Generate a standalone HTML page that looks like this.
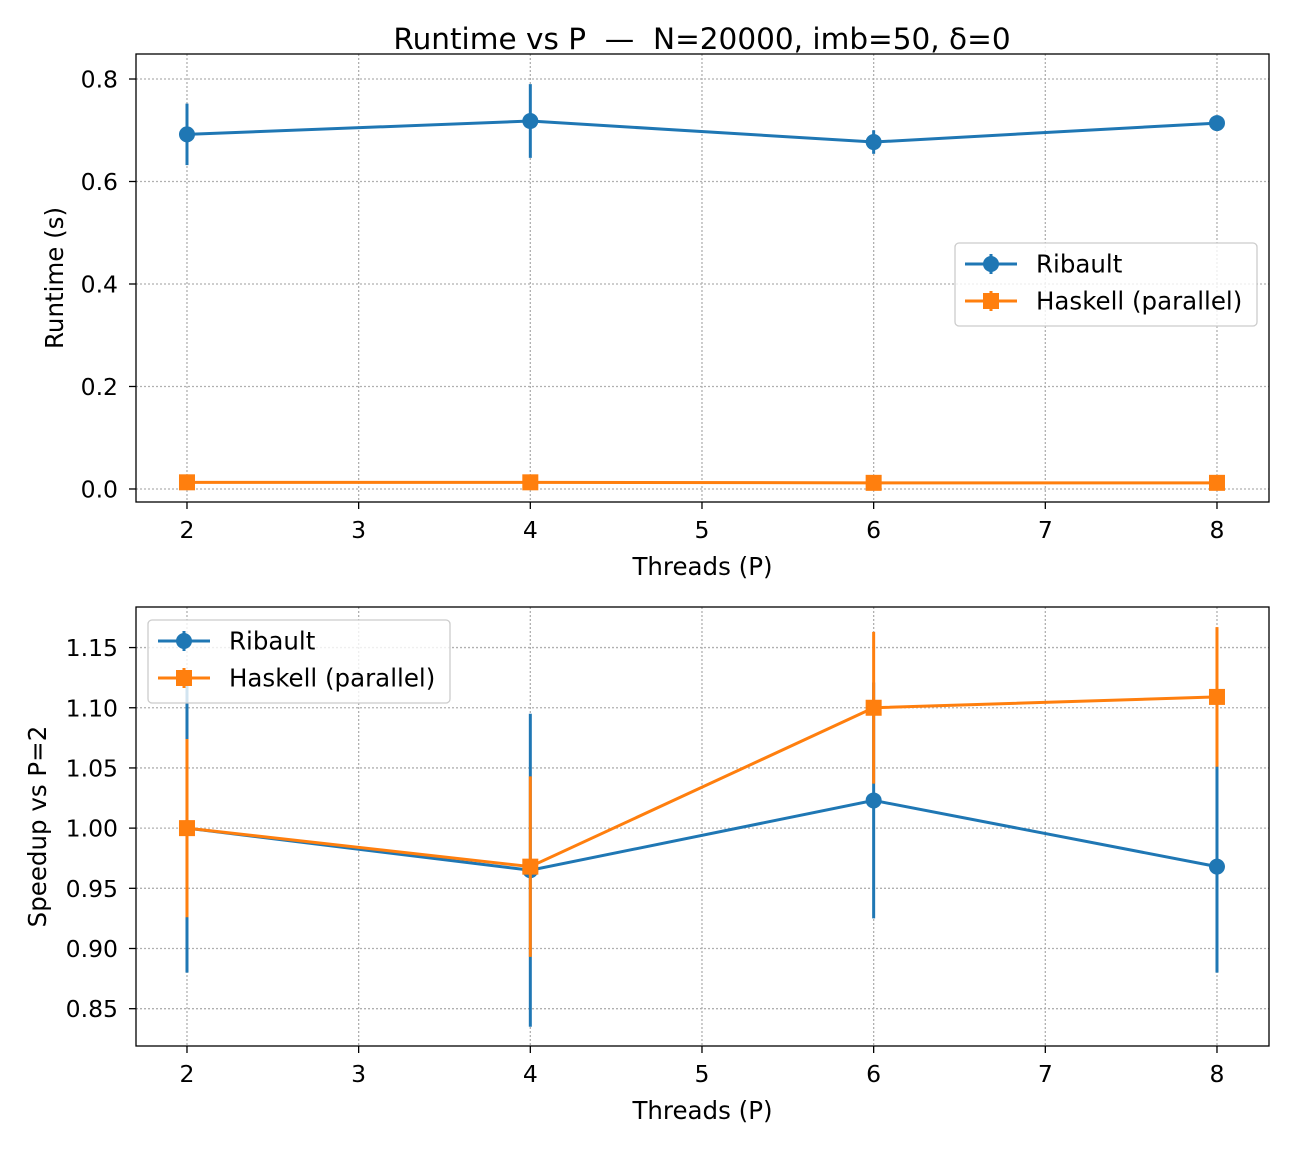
<!DOCTYPE html>
<html><head><meta charset="utf-8"><style>
body{margin:0;background:#fff}
svg text{font-family:"DejaVu Sans","Liberation Sans",sans-serif;fill:#000}
</style></head><body>
<svg id="chart" width="1296" height="1152" xmlns="http://www.w3.org/2000/svg"></svg>
<script>
const threads=[2,4,6,8];
const ribRuntime=[0.692,0.718,0.677,0.714];
const ribRuntimeErr=[0.06,0.072,0.023,0.015];
const hasRuntime=[0.013,0.013,0.012,0.012];
const hasRuntimeErr=[0.002,0.002,0.002,0.002];
const ribSpeedup=[1.000,0.965,1.023,0.968];
const ribSpeedupErr=[0.12,0.13,0.098,0.088];
const hasSpeedup=[1.000,0.968,1.100,1.109];
const hasSpeedupErr=[0.074,0.075,0.063,0.058];
const xTicks=[2,3,4,5,6,7,8];
const topYTicks=[0.0,0.2,0.4,0.6,0.8];
const botYTicks=[0.85,0.90,0.95,1.00,1.05,1.10,1.15];

const svg=document.getElementById('chart');
const NS='http://www.w3.org/2000/svg';
function mk(tag,attrs,parent){const e=document.createElementNS(NS,tag);for(const k in attrs)e.setAttribute(k,attrs[k]);(parent||svg).appendChild(e);return e;}
const BLUE='#1f77b4',ORANGE='#ff7f0e';

function panel(cfg){
  const g=mk('g',{});
  
  
  const L=136,R=1269,T=cfg.top,B=cfg.bottom;
  const sx=v=>L+(v-1.703)/(8.303-1.703)*(R-L);
  const sy=v=>B-(v-cfg.ymin)/(cfg.ymax-cfg.ymin)*(B-T);
  xTicks.forEach(t=>{
    const x=sx(t);
    const gl=mk('line',{x1:x,x2:x,y1:T,y2:B,stroke:'#b0b0b0','stroke-width':1.3,'stroke-dasharray':'2,2'},g);
    
    mk('line',{x1:x,x2:x,y1:B,y2:B+7,stroke:'#000','stroke-width':1.3},g);
    const tx=mk('text',{x:x,y:B+36,'text-anchor':'middle','font-size':23.5},g);tx.textContent=t;
    
  });
  cfg.yTicks.forEach(t=>{
    const y=sy(t);
    const gl=mk('line',{x1:L,x2:R,y1:y,y2:y,stroke:'#b0b0b0','stroke-width':1.3,'stroke-dasharray':'2,2'},g);
    
    mk('line',{x1:L-7,x2:L,y1:y,y2:y,stroke:'#000','stroke-width':1.3},g);
    const tx=mk('text',{x:L-18,y:y+8.5,'text-anchor':'end','font-size':23.5},g);tx.textContent=t.toFixed(cfg.dec);
    
  });
  function series(vals,errs,color,marker,nm){
    const sg=mk('g',{},g);
    
    const pts=threads.map((t,i)=>sx(t)+','+sy(vals[i])).join(' ');
    mk('polyline',{points:pts,fill:'none',stroke:color,'stroke-width':3},sg);
    threads.forEach((t,i)=>{
      const x=sx(t);
      const eb=mk('line',{x1:x,x2:x,y1:sy(vals[i]-errs[i]),y2:sy(vals[i]+errs[i]),stroke:color,'stroke-width':3},sg);
      
      let m;
      if(marker==='o')m=mk('circle',{cx:x,cy:sy(vals[i]),r:8,fill:color},sg);
      else m=mk('rect',{x:x-8,y:sy(vals[i])-8,width:16,height:16,fill:color},sg);
      
    });
  }
  series(cfg.rib,cfg.ribErr,BLUE,'o','ribault-series');
  series(cfg.has,cfg.hasErr,ORANGE,'s','haskell-series');
  const fr=mk('rect',{x:L,y:T,width:R-L,height:B-T,fill:'none',stroke:'#000','stroke-width':1.3},g);
  
  const xl=mk('text',{x:(L+R)/2,y:B+73,'text-anchor':'middle','font-size':24.5},g);xl.textContent='Threads (P)';
  
  const ycx=cfg.ylabX,ycy=(T+B)/2;
  const yl=mk('text',{x:ycx,y:ycy,'text-anchor':'middle','font-size':24.5,transform:`rotate(-90 ${ycx} ${ycy})`},g);yl.textContent=cfg.ylabel;
  
  const lg=mk('g',{},g);
  
  const lx=cfg.legX,ly=cfg.legY;
  mk('rect',{x:lx,y:ly,width:cfg.legW,height:83,rx:4,fill:'#fff','fill-opacity':0.8,stroke:'#ccc','stroke-width':1.3},lg);
  [[BLUE,'o','Ribault'],[ORANGE,'s','Haskell (parallel)']].forEach((e,i)=>{
    const yy=ly+21+i*37,x0=lx+10,xm=x0+26;
    const eg=mk('g',{},lg);
    
    mk('line',{x1:x0,x2:x0+52,y1:yy,y2:yy,stroke:e[0],'stroke-width':3},eg);
    mk('line',{x1:xm,x2:xm,y1:yy-10,y2:yy+10,stroke:e[0],'stroke-width':3},eg);
    if(e[1]==='o')mk('circle',{cx:xm,cy:yy,r:8,fill:e[0]},eg);else mk('rect',{x:xm-8,y:yy-8,width:16,height:16,fill:e[0]},eg);
    const t=mk('text',{x:x0+71,y:yy+8.5,'font-size':24.5},eg);t.textContent=e[2];
  });
}
panel({name:'runtime-panel',top:54,bottom:502,ymin:-0.0254,ymax:0.8488,yTicks:topYTicks,dec:1,
  rib:ribRuntime,ribErr:ribRuntimeErr,has:hasRuntime,hasErr:hasRuntimeErr,ylabel:'Runtime (s)',ylabX:63,
  legX:955,legY:243,legW:302});
panel({name:'speedup-panel',top:607,bottom:1046,ymin:0.819,ymax:1.1837,yTicks:botYTicks,dec:2,
  rib:ribSpeedup,ribErr:ribSpeedupErr,has:hasSpeedup,hasErr:hasSpeedupErr,ylabel:'Speedup vs P=2',ylabX:46,
  legX:148,legY:620,legW:302});
const title=mk('text',{x:702,y:49,'text-anchor':'middle','font-size':29.5});
title.textContent='Runtime vs P  —  N=20000, imb=50, δ=0';


title.style.whiteSpace='pre';
</script>
</body></html>
